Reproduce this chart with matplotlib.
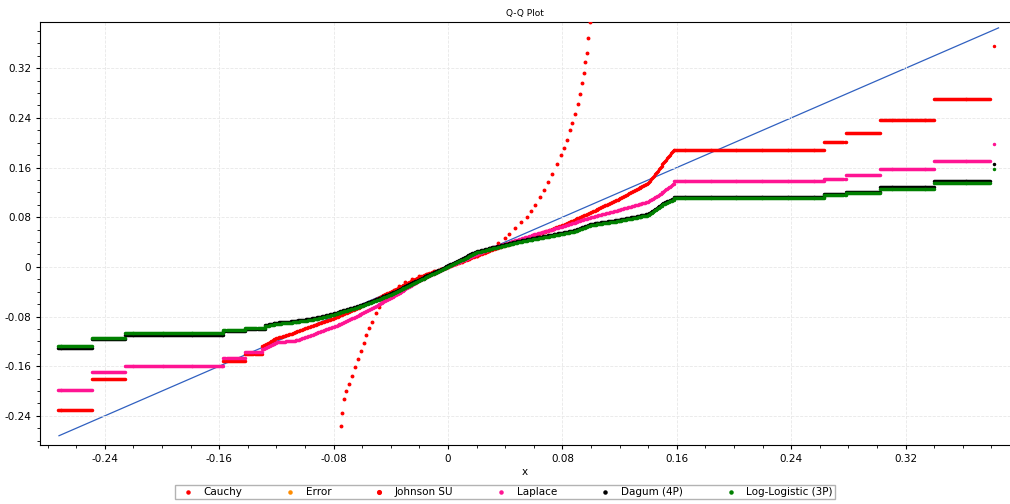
import numpy as np
import matplotlib
matplotlib.use("Agg")
import matplotlib.pyplot as plt
from matplotlib.ticker import MultipleLocator, FuncFormatter

# plateaus: (x start, x end, y) ; middle: smooth part key points (x, y)
cauchy_steps = [(-0.273, -0.249, -0.231), (-0.249, -0.226, -0.180),
                (-0.157, -0.142, -0.152), (-0.142, -0.130, -0.140),
                (0.158, 0.263, 0.189), (0.263, 0.278, 0.201), (0.278, 0.302, 0.216),
                (0.302, 0.340, 0.237), (0.340, 0.379, 0.271)]
cauchy_mid_x = [-0.130, -0.120, -0.110, -0.095, -0.080, -0.060, -0.040, -0.020, 0.0, 0.03, 0.06, 0.08, 0.10, 0.12, 0.14, 0.15, 0.158]
cauchy_mid_y = [-0.128, -0.115, -0.108, -0.095, -0.083, -0.063, -0.040, -0.016, 0.0, 0.027, 0.050, 0.067, 0.088, 0.110, 0.135, 0.165, 0.189]
cauchy_last = (0.382, 0.356)

laplace_steps = [(-0.273, -0.249, -0.198), (-0.249, -0.226, -0.170),
                 (-0.226, -0.157, -0.159), (-0.157, -0.142, -0.146),
                 (-0.142, -0.130, -0.137),
                 (0.158, 0.263, 0.138), (0.263, 0.278, 0.142), (0.278, 0.302, 0.148),
                 (0.302, 0.340, 0.158), (0.340, 0.379, 0.171)]
laplace_mid_x = [-0.130, -0.120, -0.105, -0.090, -0.075, -0.060, -0.040, -0.020, 0.0, 0.03, 0.06, 0.08, 0.10, 0.12, 0.14, 0.15, 0.158]
laplace_mid_y = [-0.133, -0.122, -0.118, -0.105, -0.092, -0.075, -0.050, -0.022, 0.0, 0.030, 0.052, 0.065, 0.080, 0.092, 0.105, 0.120, 0.134]
laplace_last = (0.382, 0.198)

green_steps = [(-0.273, -0.249, -0.128), (-0.249, -0.226, -0.114),
               (-0.226, -0.157, -0.107), (-0.157, -0.142, -0.102),
               (-0.142, -0.128, -0.098),
               (0.158, 0.263, 0.111), (0.263, 0.278, 0.115), (0.278, 0.302, 0.119),
               (0.302, 0.340, 0.126), (0.340, 0.379, 0.135)]
green_mid_x = [-0.128, -0.120, -0.110, -0.100, -0.090, -0.080, -0.060, -0.040, -0.020, 0.0, 0.02, 0.05, 0.08, 0.09, 0.10, 0.12, 0.14, 0.15, 0.158]
green_mid_y = [-0.096, -0.092, -0.090, -0.087, -0.083, -0.077, -0.063, -0.045, -0.022, 0.0, 0.023, 0.040, 0.053, 0.058, 0.067, 0.074, 0.083, 0.100, 0.108]
green_last = (0.382, 0.158)

dagum_offset = [0.002, 0.002, 0.002, 0.002, 0.003]
dagum_last = (0.382, 0.165)

johnson_x = [-0.075, -0.074, -0.073, -0.071, -0.069, -0.067, -0.065, -0.063, -0.061, -0.059, -0.057, -0.055, -0.053, -0.050, -0.048,
             -0.045, -0.042, -0.038, -0.034, -0.030, -0.025, -0.020, -0.015, -0.010, -0.005, 0.0, 0.005, 0.010, 0.015, 0.020,
             0.025, 0.030, 0.035, 0.040, 0.043, 0.047, 0.051, 0.055, 0.058, 0.061, 0.064, 0.067, 0.070, 0.073, 0.076,
             0.079, 0.081, 0.083, 0.085, 0.087, 0.089, 0.091, 0.092, 0.094, 0.095, 0.096, 0.097, 0.098, 0.099]
johnson_y = [-0.257, -0.235, -0.213, -0.200, -0.188, -0.175, -0.162, -0.148, -0.135, -0.122, -0.110, -0.099, -0.088, -0.074, -0.064,
             -0.054, -0.045, -0.038, -0.031, -0.025, -0.020, -0.015, -0.011, -0.007, -0.003, 0.0, 0.004, 0.008, 0.013, 0.018,
             0.024, 0.031, 0.038, 0.047, 0.053, 0.062, 0.072, 0.080, 0.090, 0.100, 0.112, 0.124, 0.136, 0.150, 0.165,
             0.180, 0.192, 0.205, 0.220, 0.232, 0.246, 0.262, 0.278, 0.296, 0.312, 0.330, 0.345, 0.368, 0.395]

ref_x = [-0.272, 0.385]


def build(steps, mid_x, mid_y, last, dy=None):
    xs, ys = [], []
    for i, (a, b, y) in enumerate(steps):
        n = max(3, int((b - a) * 1500))
        xs.append(np.linspace(a, b, n))
        off = 0 if dy is None else (dy[i - len(steps) + 5] if i >= len(steps) - 5 else -dy[0])
        ys.append(np.full(n, y + off))
    mx = np.linspace(mid_x[0], mid_x[-1], int((mid_x[-1] - mid_x[0]) * 1500))
    my = np.interp(mx, mid_x, mid_y)
    if dy is not None:
        my = my + 0.002
    xs.append(mx)
    ys.append(my)
    xs.append([last[0]])
    ys.append([last[1]])
    return np.concatenate(xs), np.concatenate(ys)


fig = plt.figure(figsize=(10.1, 5.04), dpi=100)
ax = fig.add_axes([0.040, 0.117, 0.960, 0.840])

ax.plot(ref_x, ref_x, color='#3060c0', lw=0.9, zorder=1)

ms = 2.2
cx, cy = build(cauchy_steps, cauchy_mid_x, cauchy_mid_y, cauchy_last)
ax.scatter(cx, cy, s=ms, color='#ff0000', label='Cauchy', zorder=3)
ax.scatter([], [], s=ms, color='#ff8c00', label='Error')
ax.scatter(johnson_x, johnson_y, s=ms + 1, color='#ff0000', label='Johnson SU', zorder=3)
lx, ly = build(laplace_steps, laplace_mid_x, laplace_mid_y, laplace_last)
ax.scatter(lx, ly, s=ms, color='#ff1493', label='Laplace', zorder=4)
dx, dyv = build(green_steps, green_mid_x, green_mid_y, dagum_last, dagum_offset)
ax.scatter(dx, dyv, s=ms, color='#000000', label='Dagum (4P)', zorder=5)
gx, gy = build(green_steps, green_mid_x, green_mid_y, green_last)
ax.scatter(gx, gy, s=ms, color='#008000', label='Log-Logistic (3P)', zorder=6)

ax.set_xlim(-0.285, 0.393)
ax.set_ylim(-0.287, 0.395)
ax.xaxis.set_major_locator(MultipleLocator(0.08))
ax.yaxis.set_major_locator(MultipleLocator(0.08))
ax.xaxis.set_minor_locator(MultipleLocator(0.02))
ax.yaxis.set_minor_locator(MultipleLocator(0.02))
fmt = FuncFormatter(lambda v, p: '0' if abs(v) < 1e-9 else f'{v:.2f}')
ax.xaxis.set_major_formatter(fmt)
ax.yaxis.set_major_formatter(fmt)
ax.tick_params(labelsize=7.5, length=3, direction='out')
ax.tick_params(which='minor', length=2)
ax.grid(True, color='#e8e8e8', lw=0.6, ls='--')
ax.spines['right'].set_visible(False)
ax.set_title('Q-Q Plot', fontsize=6.5, pad=4)
ax.set_xlabel('x', fontsize=7.5, labelpad=2)

leg = fig.legend(loc='lower center', ncol=6, fontsize=7.5, frameon=True, fancybox=False,
                 markerscale=1.5, handletextpad=0.5, columnspacing=3.6, borderpad=0.2,
                 bbox_to_anchor=(0.5, 0.0))
leg.get_frame().set_edgecolor('#a0a0a0')

fig.savefig('out.png', dpi=100)
